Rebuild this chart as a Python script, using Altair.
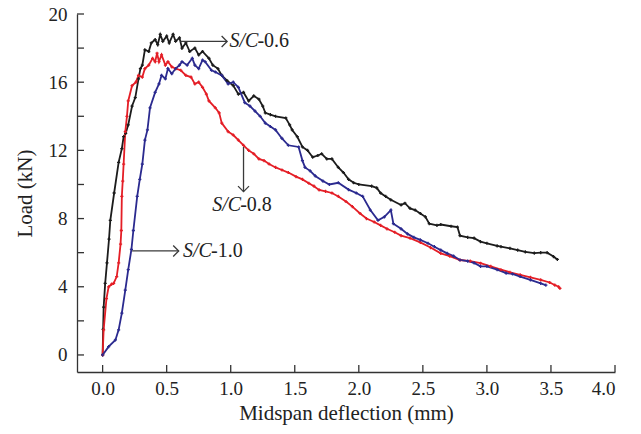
import altair as alt
import pandas as pd

# ---------------- data ----------------
series_names = ["S/C-0.6", "S/C-0.8", "S/C-1.0"]
series_colors = ["#1c1c1c", "#e41e26", "#2b2a8f"]

sc06_x = [0, 0.004, 0.008, 0.02, 0.034, 0.05, 0.06, 0.09, 0.125, 0.15,
          0.164, 0.18, 0.2, 0.23, 0.255, 0.28, 0.295, 0.31, 0.33, 0.36,
          0.38, 0.41, 0.43, 0.45, 0.47, 0.5, 0.52, 0.55, 0.57, 0.6,
          0.62, 0.65, 0.68, 0.72, 0.75, 0.78, 0.83, 0.86, 0.9, 0.93,
          0.97, 1.02, 1.06, 1.1, 1.14, 1.18, 1.22, 1.25, 1.27, 1.31,
          1.35, 1.43, 1.46, 1.48, 1.52, 1.56, 1.6, 1.64, 1.68, 1.71,
          1.75, 1.79, 1.84, 1.88, 1.92, 1.96, 2.0, 2.1, 2.14, 2.17,
          2.21, 2.25, 2.33, 2.36, 2.4, 2.44, 2.48, 2.52, 2.55, 2.61,
          2.64, 2.72, 2.77, 2.79, 2.85, 2.9, 2.95, 3.0, 3.08, 3.11,
          3.18, 3.24, 3.3, 3.37, 3.42, 3.47, 3.52, 3.55]
sc06_y = [0, 1.5, 2.8, 4.2, 5.4, 6.8, 7.9, 9.5, 11.3, 12.1,
          12.8, 13.0, 13.5, 14.6, 15.1, 16.2, 16.8, 17.0, 17.9, 17.8,
          18.3, 18.5, 18.2, 18.8, 18.4, 18.7, 18.3, 18.8, 18.4, 18.6,
          18.0, 18.3, 17.8, 18.0, 17.6, 17.8, 17.4, 17.0, 16.8, 16.4,
          16.1, 15.8, 15.3, 15.4, 14.9, 15.2, 15.0, 14.6, 14.2, 14.1,
          14.0, 13.9, 13.5, 13.2, 12.8, 12.2, 12.0, 11.6, 11.7, 11.8,
          11.5, 11.5, 11.0, 10.7, 10.3, 10.1, 10.0, 9.9, 9.8, 9.5,
          9.3, 9.1, 8.8, 8.9, 8.6, 8.5, 8.3, 8.1, 7.7, 7.6,
          7.65, 7.55, 7.5, 7.0, 6.9, 6.85, 6.65, 6.55, 6.4, 6.35,
          6.25, 6.15, 6.05, 5.97, 6.0, 6.0, 5.77, 5.6]

sc08_x = [0, 0.008, 0.03, 0.047, 0.07, 0.086, 0.11, 0.125, 0.14, 0.146,
          0.15, 0.157, 0.164, 0.177, 0.19, 0.2, 0.23, 0.26, 0.28, 0.31,
          0.33, 0.36, 0.39, 0.41, 0.425, 0.44, 0.46, 0.49, 0.51, 0.54,
          0.57, 0.61, 0.65, 0.69, 0.72, 0.75, 0.78, 0.81, 0.83, 0.88,
          0.91, 0.93, 0.98, 1.02, 1.06, 1.1, 1.14, 1.18, 1.22, 1.26,
          1.30, 1.35, 1.40, 1.45, 1.51, 1.56, 1.61, 1.65, 1.69, 1.74,
          1.79, 1.84, 1.9, 1.95, 2.01, 2.06, 2.12, 2.17, 2.22, 2.28,
          2.33, 2.4, 2.48, 2.56, 2.64, 2.71, 2.79, 2.87, 2.95, 3.03,
          3.11, 3.18, 3.26, 3.34, 3.42, 3.49, 3.53, 3.56, 3.57]
sc08_y = [0, 1.47, 3.3, 4.0, 4.15, 4.2, 4.6, 5.4, 6.5, 7.3,
          9.3, 10.2, 11.2, 13.1, 14.0, 14.9, 15.8, 16.0, 16.4, 16.3,
          16.8, 17.0, 17.4, 17.2, 17.7, 17.2, 17.6, 17.0, 17.2, 16.9,
          16.8, 16.7, 16.4, 16.3, 15.9, 16.0, 15.7, 15.3, 14.9, 14.5,
          14.2, 13.6, 13.1, 12.9, 12.6, 12.3, 12.0, 11.8, 11.5, 11.4,
          11.2, 11.0, 10.85, 10.7, 10.46, 10.3, 10.07, 9.9, 9.68, 9.6,
          9.5, 9.3, 9.0, 8.7, 8.3, 8.0, 7.8, 7.6, 7.4, 7.2,
          7.0, 6.85, 6.6, 6.3, 5.96, 5.8, 5.57, 5.5, 5.38, 5.2,
          5.0, 4.85, 4.7, 4.55, 4.4, 4.25, 4.1, 4.0, 3.9]

sc10_x = [0, 0.047, 0.1, 0.125, 0.15, 0.177, 0.2, 0.225, 0.24, 0.27,
          0.29, 0.31, 0.33, 0.35, 0.37, 0.41, 0.44, 0.46, 0.49, 0.51,
          0.54, 0.57, 0.6, 0.62, 0.66, 0.7, 0.72, 0.75, 0.78, 0.8,
          0.85, 0.88, 0.93, 0.98, 1.02, 1.06, 1.11, 1.15, 1.19, 1.23,
          1.27, 1.31, 1.35, 1.40, 1.45, 1.53, 1.56, 1.58, 1.62, 1.66,
          1.72, 1.77, 1.84, 1.92, 1.98, 2.03, 2.09, 2.15, 2.2, 2.25,
          2.27, 2.33, 2.38, 2.43, 2.48, 2.54, 2.59, 2.64, 2.69, 2.74,
          2.79, 2.85, 2.90, 2.95, 3.0, 3.08, 3.15, 3.2, 3.26, 3.34,
          3.42, 3.46]
sc10_y = [0, 0.49, 0.88, 1.47, 2.45, 3.8, 5.0, 6.2, 7.3, 9.3,
          10.3, 11.2, 12.6, 13.2, 14.5, 15.4, 15.9, 16.4, 16.2, 16.8,
          16.5, 16.8, 17.0, 17.2, 17.0, 17.4, 17.0, 16.8, 17.3, 17.2,
          16.7, 16.6, 16.4, 15.9, 16.0, 15.7, 14.8, 14.6, 14.3, 14.0,
          13.6, 13.4, 13.2, 12.7, 12.3, 12.2, 11.4, 11.0, 10.8, 10.5,
          10.2, 10.0, 10.1, 9.7, 9.5, 9.3, 8.5, 7.9, 8.1, 8.5,
          7.7, 7.4, 7.1, 6.9, 6.75, 6.55, 6.35, 6.15, 5.96, 5.8,
          5.57, 5.5, 5.4, 5.2, 5.2, 5.0, 4.8, 4.75, 4.6, 4.4,
          4.2, 4.1]

x_tick_values = [0, 0.5, 1.0, 1.5, 2.0, 2.5, 3.0, 3.5, 4.0]
y_tick_values = [0, 2, 4, 6, 8, 10, 12, 14, 16, 18, 20]
y_label_values = [0, 4, 8, 12, 16, 20]

# annotation arrows (start -> head) and labels
arrow_x1 = [0.607, 1.10, 0.23]
arrow_y1 = [18.39, 12.2, 6.1]
arrow_x2 = [0.972, 1.10, 0.594]
arrow_y2 = [18.39, 9.58, 6.1]
arrow_dir = ["right", "down", "right"]
label_x = [0.99, 0.855, 0.628]
label_y = [18.39, 8.8, 6.1]
label_prefix = ["S/C", "S/C", "S/C"]
label_suffix = ["-0.6", "-0.8", "-1.0"]

# ---------------- build tables ----------------
rows = []
for name, xs, ys in zip(series_names, [sc06_x, sc08_x, sc10_x], [sc06_y, sc08_y, sc10_y]):
    for i, (a, b) in enumerate(zip(xs, ys)):
        rows.append({"x": a, "y": b, "series": name, "order": i})
curves = pd.DataFrame(rows)

arrows = pd.DataFrame({"x": arrow_x1, "y": arrow_y1, "x2": arrow_x2, "y2": arrow_y2, "dir": arrow_dir})
labels = pd.DataFrame({"x": label_x, "y": label_y, "pre": label_prefix, "suf": label_suffix})
xticks = pd.DataFrame({"x": x_tick_values})
yticks = pd.DataFrame({"y": y_tick_values})

FONT = "Liberation Serif"
AX = "#333333"
TXT = "#222222"
W, H = 538, 358

x_scale = alt.Scale(domain=[-0.2, 4.0], nice=False, zero=False)
y_scale = alt.Scale(domain=[-1, 20], nice=False, zero=False)
common_axis = dict(ticks=False, tickSize=0, grid=False,
                   domainColor=AX, domainWidth=1.3,
                   labelFont=FONT, labelFontSize=19, labelColor=TXT,
                   titleFont=FONT, titleFontSize=21, titleFontWeight="normal", titleColor=TXT)
x_axis = alt.Axis(values=x_tick_values, format=".1f", title="Midspan deflection (mm)",
                  labelPadding=7, titlePadding=4, **common_axis)
y_axis = alt.Axis(values=y_label_values, format="d", title="Load (kN)",
                  labelPadding=10, titlePadding=13, **common_axis)


def X(field="x"):
    return alt.X(f"{field}:Q", scale=x_scale, axis=x_axis)


def Y(field="y"):
    return alt.Y(f"{field}:Q", scale=y_scale, axis=y_axis)


color_enc = alt.Color("series:N", scale=alt.Scale(domain=series_names, range=series_colors), legend=None)

lines = alt.Chart(curves).mark_line(strokeWidth=1.8, strokeJoin="miter").encode(
    x=X(), y=Y(), color=color_enc, order="order:Q", detail="series:N",
)
markers = alt.Chart(curves).mark_point(shape="cross", filled=True, size=10, opacity=1).encode(
    x=X(), y=Y(), color=color_enc,
)

xtick_marks = alt.Chart(xticks).mark_rule(color=AX, strokeWidth=1.3).encode(
    x=X(), y=alt.value(H), y2=alt.value(H - 7)
)
ytick_marks = alt.Chart(yticks).mark_rule(color=AX, strokeWidth=1.3).encode(
    y=Y(), x=alt.value(0), x2=alt.value(7)
)

arrow_lines = alt.Chart(arrows).mark_rule(color="#3a3a3a", strokeWidth=1.3).encode(
    x=X(), y=Y(), x2="x2:Q", y2="y2:Q"
)
heads_right = alt.Chart(arrows).transform_filter(alt.datum.dir == "right").mark_point(
    shape="M -1 -1 L 0 0 L -1 1", filled=False, size=121, color="#3a3a3a", strokeWidth=1.3, opacity=1
).encode(x=X("x2"), y=Y("y2"))
heads_down = alt.Chart(arrows).transform_filter(alt.datum.dir == "down").mark_point(
    shape="M -1 -1 L 0 0 L 1 -1", filled=False, size=121, color="#3a3a3a", strokeWidth=1.3, opacity=1
).encode(x=X("x2"), y=Y("y2"))

text_pre = alt.Chart(labels).mark_text(
    font=FONT, fontSize=20, fontStyle="italic", align="left", baseline="middle", color=TXT
).encode(x=X(), y=Y(), text="pre:N")
text_suf = alt.Chart(labels).mark_text(
    font=FONT, fontSize=20, align="left", baseline="middle", dx=28, color=TXT
).encode(x=X(), y=Y(), text="suf:N")

chart = alt.layer(
    lines, markers, xtick_marks, ytick_marks, arrow_lines, heads_right, heads_down, text_pre, text_suf
).properties(
    width=W, height=H,
    autosize=alt.AutoSizeParams(type="none"),
    padding={"left": 77, "top": 14, "right": 26, "bottom": 62},
    background="white",
).configure_view(stroke=None)

chart.save("out.html", embed_options={"renderer": "svg", "actions": False})
